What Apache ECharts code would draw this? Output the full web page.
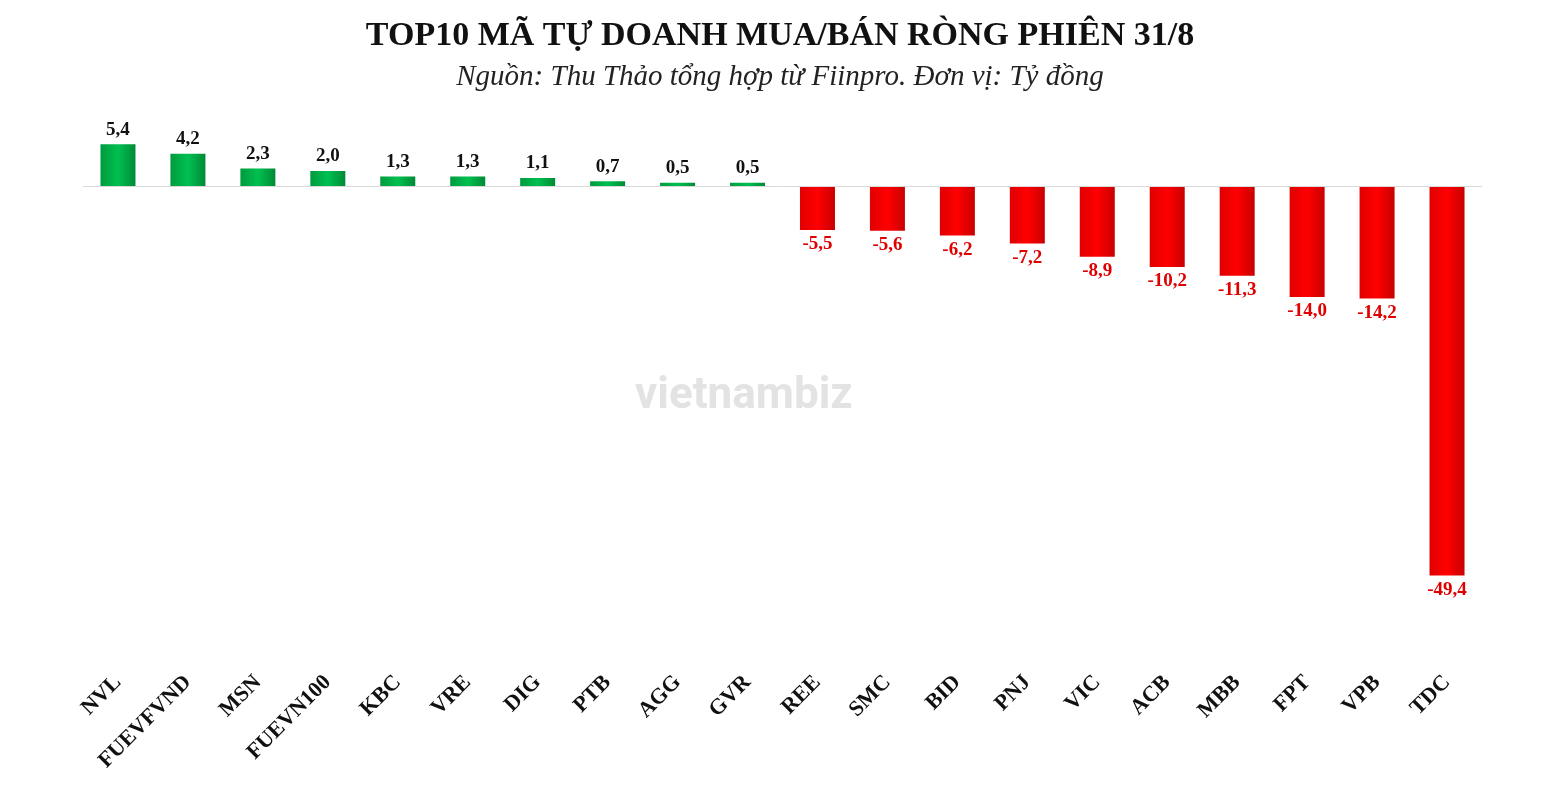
<!DOCTYPE html>
<html><head><meta charset="utf-8">
<script src="https://cdn.jsdelivr.net/npm/echarts@6/dist/echarts.min.js"></script>
<style>html,body{margin:0;background:#fff}#c{width:1560px;height:785px}</style>
</head><body><div id="c"></div>
<script>
const categories = ["NVL","FUEVFVND","MSN","FUEVN100","KBC","VRE","DIG","PTB","AGG","GVR","REE","SMC","BID","PNJ","VIC","ACB","MBB","FPT","VPB","TDC"];
const values = [5.4,4.2,2.3,2.0,1.3,1.3,1.1,0.7,0.5,0.5,-5.5,-5.6,-6.2,-7.2,-8.9,-10.2,-11.3,-14.0,-14.2,-49.4];

const serif = "Liberation Serif";
const chart = echarts.init(document.getElementById("c"));
chart.setOption({
  animation: false,
  title: {
    text: "TOP10 MÃ TỰ DOANH MUA/BÁN RÒNG PHIÊN 31/8",
    subtext: "Nguồn: Thu Thảo tổng hợp từ Fiinpro. Đơn vị: Tỷ đồng",
    left: "center", top: 14, itemGap: 10,
    textStyle: { fontFamily: serif, fontWeight: "bold", fontSize: 34, color: "#111" },
    subtextStyle: { fontFamily: serif, fontStyle: "italic", fontSize: 29, color: "#222" }
  },
  graphic: [{
    type: "text", left: 635, top: 375,
    style: { text: "vietnambiz", font: "bold 44px Roboto", fill: "rgba(200,200,200,0.5)" }
  }],
  grid: { left: 83, right: 78, top: 108, bottom: 126 },
  xAxis: {
    type: "category", data: categories, position: "bottom",
    axisLine: { show: false }, axisTick: { show: false },
    axisLabel: { rotate: 45, interval: 0, margin: 20, fontFamily: serif, fontWeight: "bold", fontSize: 22, color: "#111" }
  },
  yAxis: { type: "value", min: -60, max: 10, show: false, splitLine: { show: false } },
  series: [{
    type: "bar", barWidth: 35,
    data: values.map(v => ({
      value: v,
      itemStyle: {
        color: v >= 0
          ? new echarts.graphic.LinearGradient(0, 0, 1, 0, [{offset:0,color:"#009a3e"},{offset:0.5,color:"#00c050"},{offset:1,color:"#008a36"}])
          : new echarts.graphic.LinearGradient(0, 0, 1, 0, [{offset:0,color:"#e00000"},{offset:0.5,color:"#ff0000"},{offset:1,color:"#c80000"}])
      },
      label: {
        show: true, position: v >= 0 ? "top" : "bottom",
        color: v >= 0 ? "#111" : "#e00000",
        fontFamily: serif, fontWeight: "bold", fontSize: 19,
        formatter: () => v.toFixed(1).replace(".", ",")
      }
    })),
    markLine: {
      silent: true, symbol: "none", label: { show: false },
      lineStyle: { color: "#d9d9d9", type: "solid", width: 1 },
      data: [{ yAxis: 0 }]
    }
  }]
});
</script></body></html>
